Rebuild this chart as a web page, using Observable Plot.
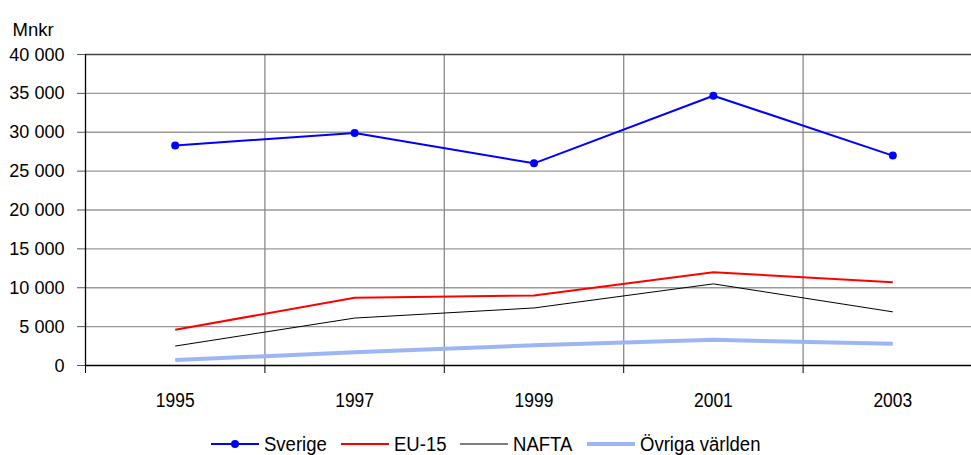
<!DOCTYPE html>
<html>
<head>
<meta charset="utf-8">
<script src="https://cdn.jsdelivr.net/npm/d3@7"></script>
<script src="https://cdn.jsdelivr.net/npm/@observablehq/plot@0.6"></script>
<style>
  html, body { margin: 0; padding: 0; background: #fff; overflow: hidden; }
  body { font-family: "Liberation Sans", Arial, sans-serif; width: 971px; }
  #legend { display: flex; justify-content: center; align-items: center; height: 48px; font-size: 19.5px; color: #000; padding-left: 0px; }
  #legend .item { display: flex; align-items: center; margin: 0 7px; }
  #legend svg { margin-right: 5px; }
  #legend span { display: inline-block; transform: scaleX(0.95); transform-origin: 0 50%; white-space: nowrap; }
</style>
</head>
<body>
<div id="chart"></div>
<div id="legend"></div>
<script>
const years = [1995, 1997, 1999, 2001, 2003];
const sverige = [28300, 29900, 26000, 34700, 27000];
const eu15 = [4600, 8700, 9000, 12000, 10700];
const nafta = [2500, 6100, 7400, 10500, 6900];
const ovriga = [700, 1700, 2600, 3300, 2800];
const seriesNames = ["Sverige", "EU-15", "NAFTA", "Övriga världen"];
const seriesColors = ["#0000ff", "#ff0000", "#000000", "#9db5f5"];
const seriesWidths = [2, 2, 1, 4];
const yTicks = [0, 5000, 10000, 15000, 20000, 25000, 30000, 35000, 40000];
const gridYears = [1994, 1996, 1998, 2000, 2002];
const yLabel = "Mnkr";

const seriesValues = [sverige, eu15, nafta, ovriga];
const data = seriesNames.flatMap((name, i) =>
  years.map((yr, j) => ({ series: name, year: yr, value: seriesValues[i][j] })));

const fmt = d => d3.format(",")(d).replace(/,/g, " ");

const lineMarks = [3, 2, 1, 0].map(i =>
  Plot.line(data.filter(d => d.series === seriesNames[i]), {
    x: "year", y: "value", stroke: seriesColors[i], strokeWidth: seriesWidths[i],
    strokeLinejoin: "round", strokeLinecap: "butt"
  }));

const chart = Plot.plot({
  width: 971,
  height: 420,
  marginLeft: 85,
  marginRight: 0,
  marginTop: 54,
  marginBottom: 55,
  style: { fontFamily: "Liberation Sans, Arial, sans-serif", fontSize: "19px", color: "#000", background: "#fff" },
  x: { type: "linear", domain: [1994, 2004], range: [85, 982] },
  y: { domain: [0, 40000], range: [365, 54] },
  marks: [
    Plot.ruleY(yTicks.filter(d => d > 0 && d < 40000), { stroke: "#999", strokeWidth: 1.3 }),
    Plot.ruleX(gridYears.filter(d => d > 1994), { y1: 0, y2: 40000, stroke: "#888", strokeWidth: 1.3 }),
    Plot.ruleY([40000], { stroke: "#444", strokeWidth: 1.3 }),
    Plot.axisY({ ticks: yTicks, tickSize: 8, tickPadding: 13, tickFormat: fmt, fontSize: 19, label: null, stroke: "#555" }),
    Plot.axisX({ ticks: gridYears, tickSize: 8, tickFormat: () => "", label: null, stroke: "#000" }),
    Plot.axisX({ ticks: years, tickSize: 0, tickPadding: 27, tickFormat: d => String(d), fontSize: 21, label: null }),
    Plot.ruleX([1994], { y1: 0, y2: 40000, stroke: "#000", strokeWidth: 1.3 }),
    Plot.ruleY([0], { stroke: "#000", strokeWidth: 1.5 }),
    ...lineMarks,
    Plot.dot(data.filter(d => d.series === seriesNames[0]), { x: "year", y: "value", r: 4, fill: seriesColors[0], stroke: "none" }),
    Plot.text([yLabel], { frameAnchor: "top-left", dx: -73, dy: -32, textAnchor: "start", fontSize: 18.5, ariaLabel: "unitlabel" })
  ]
});
document.getElementById("chart").appendChild(chart);

// Condense text horizontally about its anchor point to mimic the reference's narrow rendering
function condense(selector, s) {
  chart.querySelectorAll(selector).forEach(t => {
    const x = parseFloat(t.getAttribute("x") || "0");
    const tr = t.getAttribute("transform") || "";
    t.setAttribute("transform", `${tr} translate(${x},0) scale(${s},1) translate(${-x},0)`);
  });
}
condense('g[aria-label="y-axis tick label"] text', 0.95);
condense('g[aria-label="x-axis tick label"] text', 0.83);
condense('g[aria-label="unitlabel"] text', 0.88);

const legend = document.getElementById("legend");
seriesNames.forEach((name, i) => {
  const item = document.createElement("div");
  item.className = "item";
  const marker = i === 0 ? `<circle cx="24" cy="7" r="4" fill="${seriesColors[i]}"/>` : "";
  item.innerHTML = `<svg width="48" height="14"><line x1="0" x2="48" y1="7" y2="7" stroke="${seriesColors[i]}" stroke-width="${seriesWidths[i]}"/>${marker}</svg><span>${name}</span>`;
  legend.appendChild(item);
});
legend.querySelectorAll("span").forEach(sp => {
  const w = sp.getBoundingClientRect().width / 0.95;
  sp.style.marginRight = `${-(w * 0.05).toFixed(1)}px`;
});
</script>
</body>
</html>
